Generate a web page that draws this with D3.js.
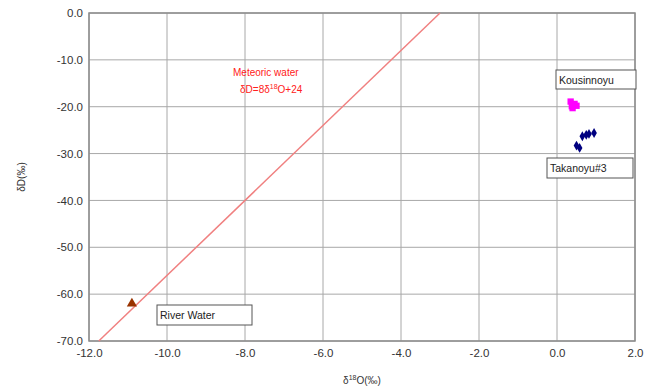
<!DOCTYPE html>
<html>
<head>
<meta charset="utf-8">
<script src="https://cdn.jsdelivr.net/npm/d3@7"></script>
<style>
  body { margin: 0; background: #fff; }
  text { font-family: "Liberation Sans", Arial, sans-serif; }
</style>
</head>
<body>
<svg id="chart" width="658" height="391"></svg>
<script>
const xTicks = [-12, -10, -8, -6, -4, -2, 0, 2];
const yTicks = [0, -10, -20, -30, -40, -50, -60, -70];

const riverWater = [[-10.9, -62.0]];
const kousinnoyu = [[0.35, -18.9], [0.45, -19.4], [0.4, -20.3], [0.5, -19.8], [0.38, -19.9]];
const takanoyu = [[0.65, -26.3], [0.75, -26.0], [0.82, -25.8], [0.95, -25.6], [0.5, -28.3], [0.58, -28.8]];

// meteoric water line: dD = 8 d18O + 24
const meteoric = { slope: 8, intercept: 24 };

const svg = d3.select("#chart");
const margin = { left: 89, right: 23, top: 13, bottom: 50 };
const width = 658 - margin.left - margin.right;
const height = 391 - margin.top - margin.bottom;

const x = d3.scaleLinear().domain([-12, 2]).range([margin.left, margin.left + width]);
const y = d3.scaleLinear().domain([-70, 0]).range([margin.top + height, margin.top]);

const grid = svg.append("g").attr("stroke", "#a8a8a8").attr("stroke-width", 1);
grid.selectAll(".gx").data(xTicks).join("line")
  .attr("x1", (d) => x(d)).attr("x2", (d) => x(d))
  .attr("y1", margin.top).attr("y2", margin.top + height);
grid.selectAll(".gy").data(yTicks).join("line")
  .attr("x1", margin.left).attr("x2", margin.left + width)
  .attr("y1", (d) => y(d)).attr("y2", (d) => y(d));

svg.append("rect")
  .attr("x", margin.left).attr("y", margin.top)
  .attr("width", width).attr("height", height)
  .attr("fill", "none").attr("stroke", "#8c8c8c").attr("stroke-width", 1.5);

const xAxis = svg.append("g")
  .attr("transform", `translate(0,${margin.top + height})`)
  .call(d3.axisBottom(x).tickValues(xTicks).tickSize(0).tickPadding(8).tickFormat(d3.format(".1f")));
const yAxis = svg.append("g")
  .attr("transform", `translate(${margin.left},0)`)
  .call(d3.axisLeft(y).tickValues(yTicks).tickSize(0).tickPadding(6).tickFormat(d3.format(".1f")));
[xAxis, yAxis].forEach((a) => {
  a.select(".domain").remove();
  a.selectAll("text").attr("fill", "#333").style("font-size", "11.5px")
    .text(function () { return this.textContent.replace("−", "-"); });
});

svg.append("text")
  .attr("x", x(-5)).attr("y", 384)
  .attr("text-anchor", "middle").attr("fill", "#333").style("font-size", "10px")
  .html('δ<tspan dy="-4" font-size="7">18</tspan><tspan dy="4">O(‰)</tspan>');

svg.append("text")
  .attr("transform", `translate(25,${y(-35)}) rotate(-90)`)
  .attr("text-anchor", "middle").attr("fill", "#333").style("font-size", "10px")
  .text("δD(‰)");

// meteoric line clipped to plot
const xLo = (-70 - meteoric.intercept) / meteoric.slope;
const xHi = (0 - meteoric.intercept) / meteoric.slope;
svg.append("line")
  .attr("x1", x(xLo)).attr("y1", y(-70))
  .attr("x2", x(xHi)).attr("y2", y(0))
  .attr("stroke", "#f08080").attr("stroke-width", 1.5);

const red = svg.append("g").attr("fill", "#ff2020").style("font-size", "10px");
red.append("text").attr("x", 233).attr("y", 76).text("Meteoric water");
red.append("text").attr("x", 240).attr("y", 93)
  .html('δD=8δ<tspan dy="-4" font-size="7">18</tspan><tspan dy="4">O+24</tspan>');

svg.append("g").selectAll("path").data(riverWater).join("path")
  .attr("d", d3.symbol(d3.symbolTriangle, 45))
  .attr("transform", (d) => `translate(${x(d[0])},${y(d[1])})`)
  .attr("fill", "#993300");

svg.append("g").selectAll("path").data(kousinnoyu).join("path")
  .attr("d", d3.symbol(d3.symbolSquare, 40))
  .attr("transform", (d) => `translate(${x(d[0])},${y(d[1])})`)
  .attr("fill", "#ff00ff");

svg.append("g").selectAll("path").data(takanoyu).join("path")
  .attr("d", d3.symbol(d3.symbolDiamond, 28))
  .attr("transform", (d) => `translate(${x(d[0])},${y(d[1])})`)
  .attr("fill", "#000080");

const labels = [
  { text: "Kousinnoyu", x: 556, y: 70, w: 80, h: 19 },
  { text: "Takanoyu#3", x: 547, y: 158, w: 86, h: 20 },
  { text: "River Water", x: 157, y: 305, w: 95, h: 20 }
];
const lab = svg.append("g").selectAll("g").data(labels).join("g");
lab.append("rect")
  .attr("x", (d) => d.x).attr("y", (d) => d.y)
  .attr("width", (d) => d.w).attr("height", (d) => d.h)
  .attr("fill", "#fff").attr("stroke", "#555").attr("stroke-width", 1);
lab.append("text")
  .attr("x", (d) => d.x + 3).attr("y", (d) => d.y + d.h / 2 + 4)
  .attr("fill", "#222").style("font-size", "10.5px")
  .text((d) => d.text);
</script>
</body>
</html>
